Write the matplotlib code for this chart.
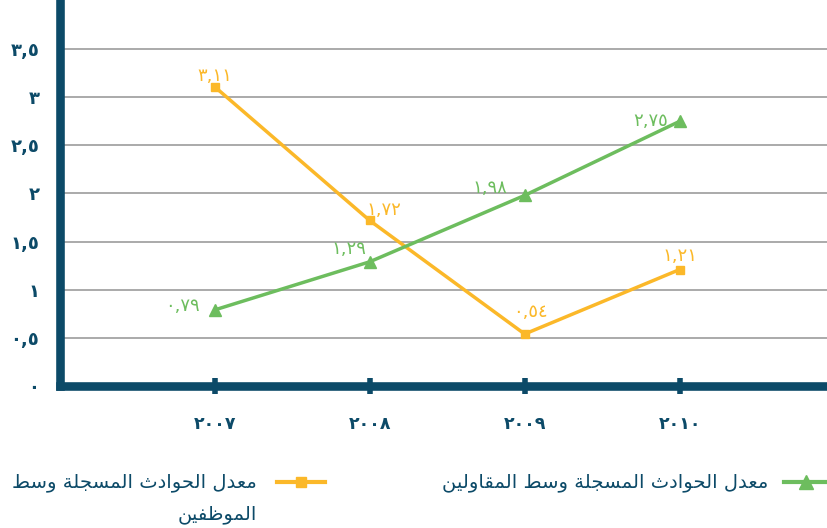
import matplotlib
matplotlib.use("Agg")
import matplotlib.pyplot as plt
from matplotlib.lines import Line2D

# ---- data -------------------------------------------------------------
years = ["٢٠٠٧", "٢٠٠٨", "٢٠٠٩", "٢٠١٠"]
employees = [3.11, 1.72, 0.54, 1.21]      # معدل الحوادث المسجلة وسط الموظفين
contractors = [0.79, 1.29, 1.98, 2.75]    # معدل الحوادث المسجلة وسط المقاولين
y_ticks = [0, 0.5, 1, 1.5, 2, 2.5, 3, 3.5]
label_employees = "معدل الحوادث المسجلة وسط الموظفين"
label_contractors = "معدل الحوادث المسجلة وسط المقاولين"

# ---- style ------------------------------------------------------------
NAVY = "#0c4a68"
ORANGE = "#fbb829"
GREEN = "#6dbd5e"
GRID = "#9c9c9c"
W, H, DPI = 827, 528, 100

plt.rcParams["font.family"] = ["DejaVu Sans"]

# Arabic presentation forms: isolated, final, initial, medial
FORMS = {
    "ا": ("\uFE8D", "\uFE8E", None, None),
    "ة": ("\uFE93", "\uFE94", None, None),
    "ث": ("\uFE99", "\uFE9A", "\uFE9B", "\uFE9C"),
    "ج": ("\uFE9D", "\uFE9E", "\uFE9F", "\uFEA0"),
    "ح": ("\uFEA1", "\uFEA2", "\uFEA3", "\uFEA4"),
    "د": ("\uFEA9", "\uFEAA", None, None),
    "س": ("\uFEB1", "\uFEB2", "\uFEB3", "\uFEB4"),
    "ط": ("\uFEC1", "\uFEC2", "\uFEC3", "\uFEC4"),
    "ظ": ("\uFEC5", "\uFEC6", "\uFEC7", "\uFEC8"),
    "ع": ("\uFEC9", "\uFECA", "\uFECB", "\uFECC"),
    "ف": ("\uFED1", "\uFED2", "\uFED3", "\uFED4"),
    "ق": ("\uFED5", "\uFED6", "\uFED7", "\uFED8"),
    "ل": ("\uFEDD", "\uFEDE", "\uFEDF", "\uFEE0"),
    "م": ("\uFEE1", "\uFEE2", "\uFEE3", "\uFEE4"),
    "ن": ("\uFEE5", "\uFEE6", "\uFEE7", "\uFEE8"),
    "و": ("\uFEED", "\uFEEE", None, None),
    "ي": ("\uFEF1", "\uFEF2", "\uFEF3", "\uFEF4"),
}


def shape_arabic(text):
    """Join Arabic letters and return the string in visual (left-to-right) order."""
    out = []
    n = len(text)
    for i, ch in enumerate(text):
        if ch not in FORMS:
            out.append(ch)
            continue
        prev = text[i - 1] if i > 0 else ""
        nxt = text[i + 1] if i + 1 < n else ""
        joins_prev = prev in FORMS and FORMS[prev][2] is not None
        joins_next = FORMS[ch][2] is not None and nxt in FORMS
        iso, fin, ini, med = FORMS[ch]
        if joins_prev and joins_next:
            out.append(med)
        elif joins_prev:
            out.append(fin)
        elif joins_next:
            out.append(ini)
        else:
            out.append(iso)
    return "".join(out)[::-1]


AR_DIGITS = str.maketrans("0123456789.", "٠١٢٣٤٥٦٧٨٩,")


def ar_num(v, decimals):
    s = f"{v:.{decimals}f}"
    if "." in s:
        s = s.rstrip("0").rstrip(".")
    return s.translate(AR_DIGITS)


fig = plt.figure(figsize=(W / DPI, H / DPI), dpi=DPI)
ax = fig.add_axes([59.5 / W, 1 - 386.0 / H, 1 - 59.5 / W, 386.0 / H])

x = list(range(len(years)))
ax.set_xlim(-1.0, 3.95)
ax.set_ylim(0, 4.01)

ax.plot(x, employees, color=ORANGE, lw=2.5, marker="s", ms=6, zorder=3,
        solid_capstyle="butt")
ax.plot(x, contractors, color=GREEN, lw=2.5, marker="^", ms=9, zorder=3,
        solid_capstyle="butt")

# value labels (offsets in points)
emp_offsets = [(0, 8), (10, 7.5), (4, 16), (0, 10)]
con_offsets = [(-23, 3), (-15, 9), (-25, 5), (-21, 0)]
for xi, v, off in zip(x, employees, emp_offsets):
    ax.annotate(ar_num(v, 2), (xi, v), xytext=off, textcoords="offset points",
                ha="center", va="center", color=ORANGE, fontsize=13)
for xi, v, off in zip(x, contractors, con_offsets):
    ax.annotate(ar_num(v, 2), (xi, v), xytext=off, textcoords="offset points",
                ha="center", va="center", color=GREEN, fontsize=13)

# axes styling
for side in ("top", "right"):
    ax.spines[side].set_visible(False)
for side in ("left", "bottom"):
    ax.spines[side].set_color(NAVY)
    ax.spines[side].set_linewidth(6.2)
    ax.spines[side].set_capstyle("projecting")

ax.set_yticks(y_ticks)
ax.set_yticklabels([ar_num(v, 1) for v in y_ticks])
ax.set_xticks(x)
ax.set_xticklabels(years)
ax.tick_params(axis="y", length=0, pad=14.5, labelsize=13, labelcolor=NAVY)
ax.tick_params(axis="x", direction="inout", length=12, width=4, color=NAVY,
               pad=15, labelsize=12.5, labelcolor=NAVY)
for t in ax.get_xticklabels() + ax.get_yticklabels():
    t.set_fontweight("bold")

ax.grid(axis="y", color=GRID, lw=1.2, zorder=0)
ax.set_axisbelow(True)

# legend (right-to-left: key on the right of the text)
def px(xp, yp):
    return xp / W, 1 - yp / H

leg_y = 482
for (x0, x1), color, marker, ms in (((784, 827), GREEN, "^", 10),
                                    ((277, 325), ORANGE, "s", 7)):
    (fx0, fy), (fx1, _) = px(x0, leg_y), px(x1, leg_y)
    fig.add_artist(Line2D([fx0, fx1], [fy, fy], color=color, lw=3,
                          transform=fig.transFigure))
    fig.add_artist(Line2D([(fx0 + fx1) / 2], [fy], color=color, marker=marker,
                          ms=ms, lw=0, transform=fig.transFigure))

fig.text(*px(768, leg_y), shape_arabic(label_contractors), ha="right",
         va="center", color=NAVY, fontsize=14)
words = label_employees.split(" ")
fig.text(*px(257, leg_y), shape_arabic(" ".join(words[:-1])), ha="right",
         va="center", color=NAVY, fontsize=14)
fig.text(*px(257, leg_y + 33), shape_arabic(words[-1]), ha="right",
         va="center", color=NAVY, fontsize=14)

fig.savefig("out.png", dpi=DPI)
